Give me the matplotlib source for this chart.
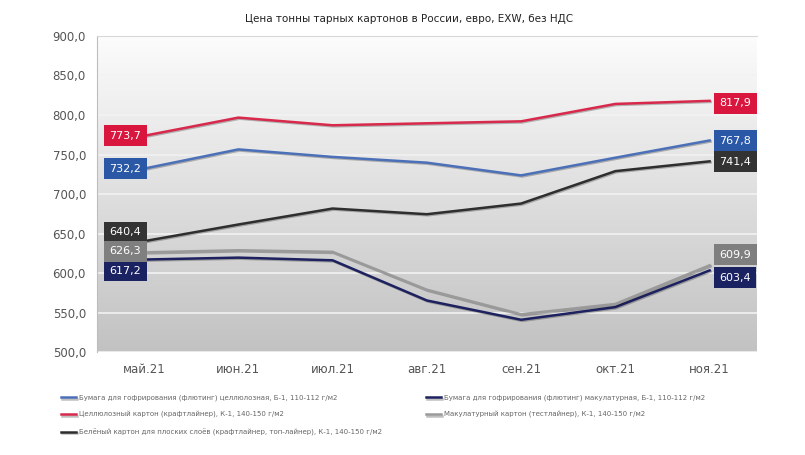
import numpy as np
import matplotlib.pyplot as plt
import matplotlib.patheffects as pe

months = ["май.21", "июн.21", "июл.21", "авг.21", "сен.21", "окт.21", "ноя.21"]

# цены, евро/т
flute_cell = [732.2, 756.5, 747.0, 739.7, 723.6, 746.0, 767.8]
flute_waste = [617.2, 619.6, 616.2, 565.4, 541.0, 557.0, 603.4]
kraftliner = [773.7, 796.7, 787.0, 789.5, 792.0, 814.0, 817.9]
testliner = [626.3, 628.9, 626.9, 579.0, 548.0, 561.0, 609.9]
white_top = [640.4, 661.5, 681.7, 674.5, 688.0, 729.0, 741.4]

names = [
    "Бумага для гофрирования (флютинг) целлюлозная, Б-1, 110-112 г/м2",
    "Целлюлозный картон (крафтлайнер), К-1, 140-150 г/м2",
    "Белёный картон для плоских слоёв (крафтлайнер, топ-лайнер), К-1, 140-150 г/м2",
    "Бумага для гофрирования (флютинг) макулатурная, Б-1, 110-112 г/м2",
    "Макулатурный картон (тестлайнер), К-1, 140-150 г/м2",
]
series = [flute_cell, kraftliner, white_top, flute_waste, testliner]
line_colors = ["#4b70b8", "#d8294c", "#2e2e2e", "#1d2160", "#9a9a9a"]
box_colors = ["#2a58a6", "#d9163d", "#333333", "#1a2262", "#7f7f7f"]

# где ставить плашки (чтобы не налезали друг на друга)
left_lbl_y = [732.0, 774.0, 651.5, 603.0, 627.5]
right_lbl_y = [767.5, 815.0, 741.0, 594.0, 623.5]

fig = plt.figure(figsize=(8.05, 4.55), dpi=100)
ax = fig.add_axes([0.1205, 0.226, 0.8195, 0.695])

x = np.arange(len(months))

# фон с градиентом
grad = np.linspace(0, 1, 256).reshape(-1, 1)
ax.imshow(grad, cmap=plt.matplotlib.colors.LinearSegmentedColormap.from_list(
    "bg", ["#fcfcfc", "#c2c2c2"]), aspect="auto", extent=[0, 1, 0, 1],
    transform=ax.transAxes, zorder=0, origin="upper")

ax.set_xlim(-0.5, len(months) - 0.5)
ax.set_ylim(500, 900)
ax.set_yticks(np.arange(500, 901, 50))
ax.set_yticklabels([f"{v:.1f}".replace(".", ",") for v in np.arange(500, 901, 50)])
ax.set_xticks(x)
ax.set_xticklabels(months)
ax.grid(axis="y", color="#f2f2f2", lw=1.2, zorder=1)
ax.set_axisbelow(True)
ax.tick_params(axis="both", length=0, colors="#555555", labelsize=8.5)
ax.tick_params(axis="y", pad=8)
ax.tick_params(axis="x", pad=8)
for s in ["right", "bottom"]:
    ax.spines[s].set_visible(False)
ax.spines["left"].set_color("#bdbdbd")
ax.spines["top"].set_color("#d8d8d8")

for vals, name, lc, bc, ly, ry in zip(series, names, line_colors, box_colors,
                                       left_lbl_y, right_lbl_y):
    ax.plot(x, vals, color=lc, lw=1.8, label=name, zorder=3,
            path_effects=[pe.SimpleLineShadow(offset=(0.8, -0.8), alpha=0.25),
                          pe.Normal()])
    for xi, yi, v, ha, dx in [(x[0], ly, vals[0], "right", -2),
                              (x[-1], ry, vals[-1], "left", 7)]:
        ax.annotate(f"{v:.1f}".replace(".", ","), xy=(xi, yi),
                    xytext=(dx, 0), textcoords="offset points",
                    ha=ha, va="center", color="white", fontsize=8,
                    zorder=5,
                    bbox=dict(boxstyle="square,pad=0.5", fc=bc, ec="none"))

fig.text(0.508, 0.958, "Цена тонны тарных картонов в России, евро, EXW, без НДС",
         ha="center", va="center", fontsize=7.5, color="#222222")

fig.legend(loc="upper left", bbox_to_anchor=(0.068, 0.146), ncol=2,
           fontsize=5.0, frameon=False, handlelength=2.2, handletextpad=0.4,
           columnspacing=6.3, labelspacing=1.45, labelcolor="#666666")

fig.savefig("out.png", dpi=100)
